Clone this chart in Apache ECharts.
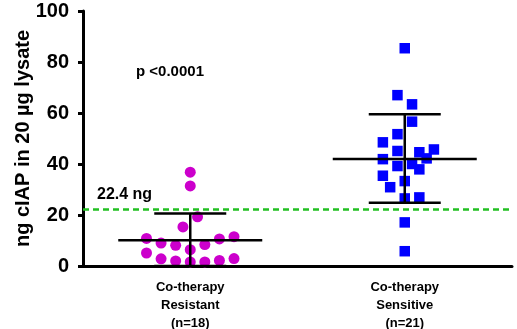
<!DOCTYPE html>
<html>
<head>
<meta charset="utf-8">
<script src="https://cdn.jsdelivr.net/npm/echarts@6/dist/echarts.min.js"></script>
<style>html,body{margin:0;padding:0;background:#fff}#c{width:517px;height:329px}</style>
</head>
<body>
<div id="c"></div>
<script>
// Categories and labels
var categories = ['Co-therapy\nResistant\n(n=18)', 'Co-therapy\nSensitive\n(n=21)'];
var yTicks = [0, 20, 40, 60, 80, 100];
// Group 1: Co-therapy Resistant (values in ng)
var resistantValues = [36.8, 31.4, 19.3, 15.3, 10.8, 9.0, 8.1, 6.4, 8.4, 10.6, 11.5, 5.1, 2.8, 2.0, 1.6, 1.6, 2.2, 2.9];
var resistantColumns = [0, 0, 0.5, -0.5, -3, -2, -1, 0, 1, 2, 3, -3, -2, -1, 0, 1, 2, 3];
// Group 2: Co-therapy Sensitive
var sensitiveValues = [85.4, 67.0, 63.4, 56.6, 51.7, 48.5, 45.1, 44.6, 45.7, 41.9, 42.2, 39.2, 40.0, 37.9, 35.4, 33.3, 30.9, 26.5, 26.9, 17.1, 5.8];
var sensitiveColumns = [0, -1, 1, 1, -1, -3, -1, 2, 4, -3, 3, -1, 1, 2, -3, 0, -2, 0, 2, 0, 0];
// Summary (mean and SD bars) per group
var groupMeans = [10.1, 42.0];
var groupUpper = [20.6, 59.5];
var groupLower = [0, 24.8];
var threshold = 22.4;
var thresholdLabel = '22.4 ng';
var pLabel = 'p <0.0001';

var resistantStep = 0.068, sensitiveStep = 0.034;
var resData = resistantValues.map(function (v, i) { return [0.5 + resistantColumns[i] * resistantStep, v]; });
var senData = sensitiveValues.map(function (v, i) { return [1.5 + sensitiveColumns[i] * sensitiveStep, v]; });
var barData = groupMeans.map(function (m, i) { return [i + 0.5, m, groupLower[i], groupUpper[i]]; });

var FONT = 'Liberation Sans, Arial, sans-serif';
var chart = echarts.init(document.getElementById('c'), null, {renderer: 'canvas'});
chart.setOption({
  animation: false,
  backgroundColor: '#fff',
  grid: {left: 83, right: 5, top: 11, bottom: 63, containLabel: false, outerBoundsMode: 'none'},
  xAxis: {
    type: 'value', min: 0, max: 2, interval: 0.5,
    axisLine: {show: true, onZero: false, lineStyle: {color: '#000', width: 3}},
    axisTick: {show: false},
    splitLine: {show: false},
    axisLabel: {
      show: true, margin: 12, lineHeight: 18,
      fontFamily: FONT, fontWeight: 'bold', fontSize: 13, color: '#000',
      formatter: function (v) {
        if (Math.abs(v - 0.5) < 1e-6) return categories[0];
        if (Math.abs(v - 1.5) < 1e-6) return categories[1];
        return '';
      }
    }
  },
  yAxis: {
    type: 'value', min: 0, max: 100, interval: 20,
    name: 'ng cIAP in 20 µg lysate', nameLocation: 'middle', nameGap: 50, nameMoveOverlap: false,
    nameTextStyle: {fontFamily: FONT, fontWeight: 'bold', fontSize: 20, color: '#000'},
    axisLine: {show: true, lineStyle: {color: '#000', width: 3}},
    axisTick: {show: true, length: 5, inside: false, lineStyle: {color: '#000', width: 3}},
    splitLine: {show: false},
    axisLabel: {
      margin: 14, fontFamily: FONT, fontWeight: 'bold', fontSize: 20, color: '#000',
      formatter: function (v) { return yTicks.indexOf(v) >= 0 ? String(v) : ''; }
    }
  },
  series: [
    {
      type: 'line', data: [], silent: true,
      markLine: {
        silent: true, symbol: 'none', animation: false,
        lineStyle: {color: '#22C022', width: 2.5, type: [6, 4]},
        label: {show: false},
        data: [{yAxis: threshold}]
      }
    },
    {
      type: 'scatter', data: resData, symbol: 'circle', symbolSize: 11,
      itemStyle: {color: '#CC00CC', opacity: 1}, z: 3
    },
    {
      type: 'scatter', data: senData, symbol: 'rect', symbolSize: 10.5,
      itemStyle: {color: '#0000FF', opacity: 1}, z: 3
    },
    {
      type: 'custom', z: 5, data: barData,
      renderItem: function (params, api) {
        var x = api.value(0);
        var c = api.coord([x, api.value(1)]);
        var lo = api.coord([x, api.value(2)]);
        var hi = api.coord([x, api.value(3)]);
        var st = {stroke: '#000', lineWidth: 2.5};
        return {
          type: 'group',
          children: [
            {type: 'line', shape: {x1: c[0], y1: lo[1], x2: c[0], y2: hi[1]}, style: st},
            {type: 'line', shape: {x1: c[0] - 36, y1: hi[1], x2: c[0] + 36, y2: hi[1]}, style: st},
            {type: 'line', shape: {x1: c[0] - 36, y1: lo[1], x2: c[0] + 36, y2: lo[1]}, style: st},
            {type: 'line', shape: {x1: c[0] - 72, y1: c[1], x2: c[0] + 72, y2: c[1]}, style: st}
          ]
        };
      }
    }
  ],
  graphic: [
    {type: 'text', left: 97, top: 187, style: {text: thresholdLabel, font: 'bold 16px ' + FONT, fill: '#000'}},
    {type: 'text', left: 136, top: 64, style: {text: pLabel, font: 'bold 15px ' + FONT, fill: '#000'}}
  ]
});
</script>
</body>
</html>
